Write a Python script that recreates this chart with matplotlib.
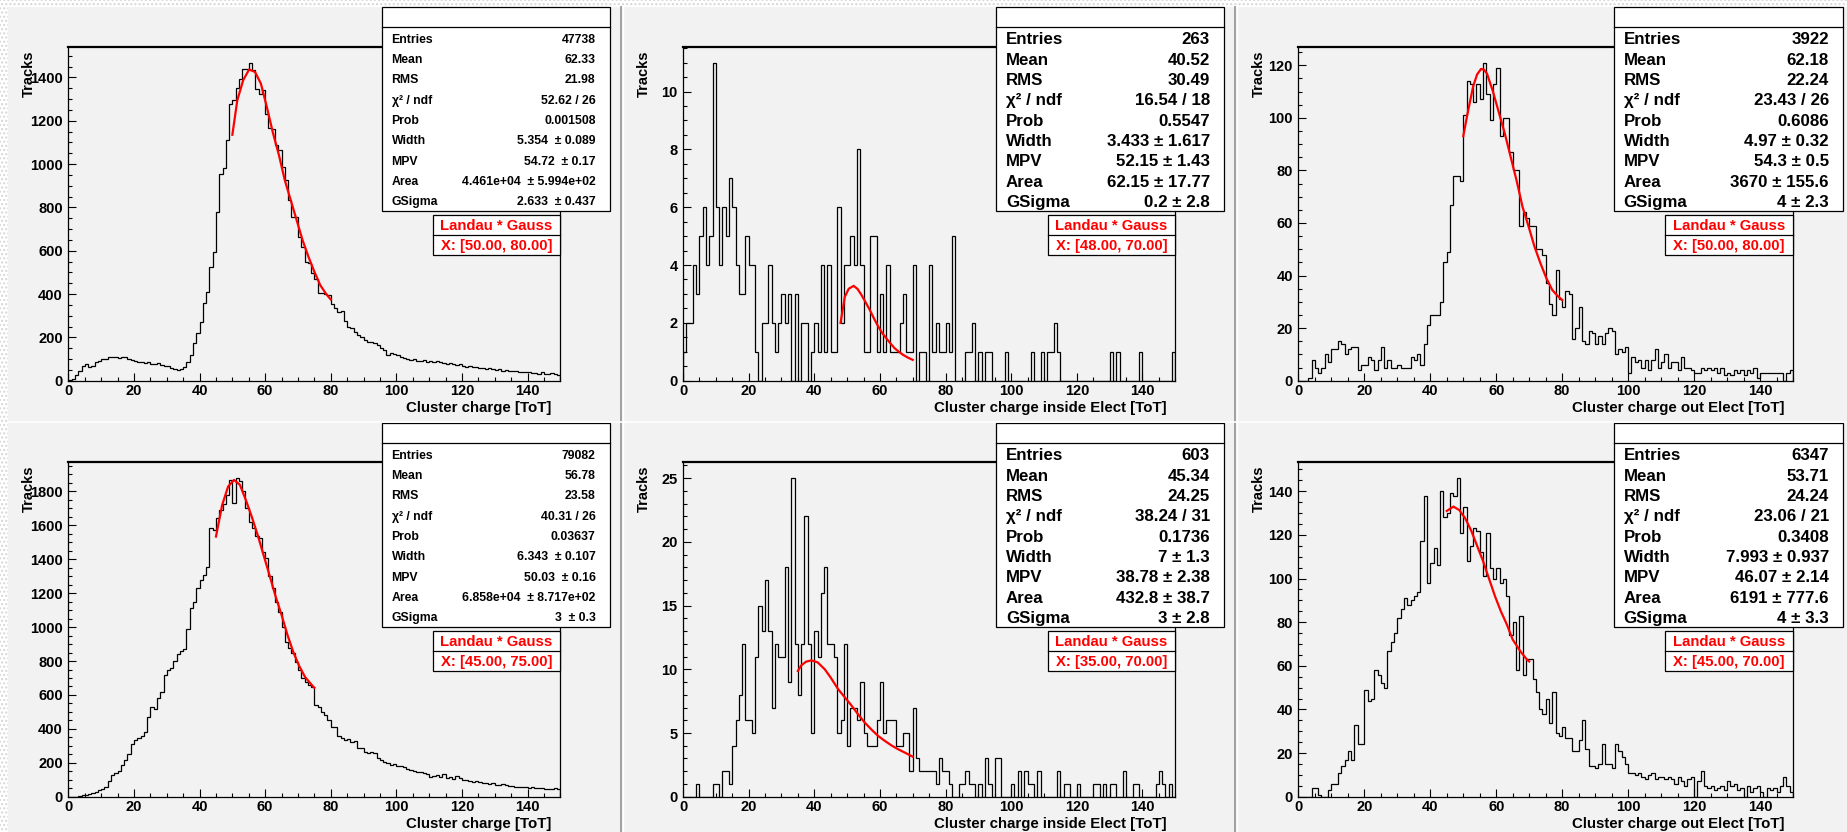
"""
Cluster charge (ToT) distributions with Landau*Gauss fits,
all / inside electrode / outside electrode, two data sets.
ROOT-canvas style 3x2 layout.
"""

import numpy as np
import matplotlib
matplotlib.use("Agg")
import matplotlib.pyplot as plt
from matplotlib.patches import Rectangle
from matplotlib.ticker import MultipleLocator

# Output / canvas configuration (pixel based)
W, H = 1847, 832
DPI = 100
BG = "#f2f2f2"
plt.rcParams["font.family"] = ["Liberation Sans", "DejaVu Sans"]
plt.rcParams["font.weight"] = "bold"

# ---------------------------------------------------------------
# Histogram contents: counts per 1 ToT bin, 0..150 (150 bins)
# ---------------------------------------------------------------
tot_edges = np.arange(0, 151)

charge_all_top = [
    2, 8, 25, 45, 70, 75, 65, 70, 88, 92,
    100, 102, 110, 110, 108, 105, 110, 108, 100, 95,
    92, 85, 88, 80, 85, 78, 75, 80, 72, 70,
    68, 60, 55, 50, 55, 65, 88, 118, 172, 218,
    272, 357, 410, 526, 592, 780, 956, 980, 1113, 1276,
    1294, 1353, 1394, 1440, 1440, 1468, 1433, 1344, 1325, 1340,
    1233, 1164, 1160, 1090, 1064, 987, 925, 836, 756, 756,
    664, 618, 549, 545, 495, 470, 403, 403, 400, 395,
    354, 334, 318, 322, 277, 249, 241, 226, 211, 203,
    188, 180, 180, 172, 164, 149, 141, 118, 126, 124,
    120, 110, 103, 100, 95, 98, 92, 90, 94, 88,
    90, 88, 92, 85, 80, 78, 82, 75, 72, 76,
    70, 65, 68, 62, 64, 60, 58, 55, 57, 52,
    50, 52, 47, 49, 45, 44, 46, 40, 42, 38,
    40, 35, 37, 33, 38, 32, 30, 36, 30, 26,
]

charge_in_top = [
    1, 2, 2, 4, 3, 5, 6, 4, 5, 11,
    6, 4, 6, 5, 7, 6, 4, 3, 3, 5,
    4, 4, 1, 0, 2, 2, 4, 2, 1, 2,
    3, 2, 3, 0, 3, 0, 2, 2, 0, 1,
    2, 1, 4, 1, 4, 1, 1, 6, 2, 4,
    4, 5, 4, 8, 4, 1, 1, 5, 5, 1,
    3, 1, 4, 1, 1, 1, 2, 3, 1, 1,
    4, 0, 1, 1, 0, 4, 1, 2, 1, 1,
    2, 1, 5, 0, 0, 0, 1, 1, 2, 0,
    1, 0, 1, 1, 0, 0, 0, 0, 1, 0,
    0, 0, 0, 0, 0, 0, 1, 0, 0, 1,
    0, 1, 1, 2, 1, 0, 0, 0, 0, 0,
    0, 0, 0, 0, 0, 0, 0, 0, 0, 0,
    1, 0, 1, 0, 0, 0, 0, 0, 0, 1,
    0, 0, 0, 0, 0, 0, 0, 0, 0, 1,
]

charge_out_top = [
    0, 0, 0, 1, 8, 5, 3, 5, 10, 7,
    12, 12, 15, 14, 10, 12, 13, 13, 4, 6,
    6, 9, 8, 4, 8, 13, 5, 8, 5, 5,
    6, 5, 5, 5, 9, 8, 10, 6, 14, 21,
    25, 25, 25, 30, 45, 49, 67, 78, 78, 76,
    101, 114, 113, 106, 113, 107, 121, 109, 99, 113,
    119, 93, 100, 100, 87, 80, 80, 59, 64, 62,
    59, 59, 50, 50, 48, 37, 29, 25, 42, 31,
    28, 34, 33, 16, 20, 28, 15, 14, 19, 18,
    14, 17, 14, 18, 20, 19, 10, 12, 11, 13,
    3, 9, 7, 8, 5, 8, 4, 8, 12, 5,
    7, 10, 5, 7, 7, 4, 9, 5, 5, 4,
    3, 3, 5, 4, 5, 4, 5, 3, 5, 2,
    3, 2, 4, 3, 4, 2, 4, 3, 5, 1,
    3, 3, 3, 3, 3, 3, 3, 0, 3, 4,
]

charge_all_bot = [
    0, 0, 0, 4, 8, 12, 15, 22, 30, 38,
    45, 60, 90, 128, 140, 150, 185, 215, 250, 310,
    335, 348, 355, 383, 470, 530, 520, 580, 615, 715,
    745, 760, 800, 840, 858, 870, 990, 1110, 1150, 1230,
    1280, 1305, 1357, 1583, 1573, 1642, 1691, 1725, 1780, 1868,
    1731, 1878, 1860, 1800, 1701, 1622, 1583, 1540, 1524, 1445,
    1406, 1300, 1229, 1150, 1091, 1000, 914, 875, 846, 796,
    747, 700, 678, 660, 649, 541, 531, 501, 482, 452,
    413, 410, 360, 344, 334, 340, 324, 330, 285, 290,
    262, 258, 265, 256, 226, 218, 206, 200, 187, 190,
    183, 182, 177, 163, 157, 151, 147, 145, 138, 132,
    118, 122, 128, 118, 132, 112, 118, 105, 122, 110,
    98, 100, 92, 88, 90, 85, 80, 82, 73, 78,
    70, 69, 75, 68, 65, 62, 59, 60, 55, 58,
    53, 55, 50, 49, 52, 45, 48, 44, 50, 45,
]

charge_in_bot = [
    0, 0, 0, 0, 1, 0, 0, 0, 0, 1,
    1, 0, 2, 2, 1, 4, 6, 8, 12, 6,
    6, 5, 11, 15, 13, 17, 13, 7, 12, 11,
    11, 18, 9, 25, 12, 8, 12, 22, 12, 5,
    13, 11, 16, 18, 12, 12, 11, 5, 6, 12,
    4, 7, 7, 6, 9, 5, 4, 4, 4, 6,
    9, 5, 6, 6, 6, 4, 4, 5, 5, 2,
    7, 3, 2, 2, 2, 2, 2, 1, 3, 2,
    2, 1, 0, 0, 1, 1, 2, 1, 1, 0,
    1, 0, 3, 1, 0, 3, 3, 0, 0, 0,
    1, 0, 2, 0, 2, 1, 1, 0, 2, 0,
    0, 0, 0, 0, 2, 0, 1, 1, 0, 0,
    1, 0, 0, 0, 0, 1, 1, 0, 1, 0,
    1, 1, 0, 0, 2, 0, 0, 1, 1, 0,
    0, 0, 0, 0, 1, 2, 1, 0, 1, 0,
]

charge_out_bot = [
    0, 0, 0, 0, 4, 4, 1, 0, 0, 3,
    6, 6, 11, 14, 17, 21, 17, 33, 24, 24,
    49, 44, 45, 58, 56, 52, 50, 67, 71, 75,
    82, 86, 91, 88, 90, 92, 94, 117, 138, 98,
    107, 114, 106, 140, 128, 130, 139, 138, 146, 121,
    133, 108, 115, 123, 122, 112, 101, 121, 105, 100,
    105, 98, 100, 92, 74, 80, 58, 83, 56, 63,
    63, 54, 48, 40, 38, 45, 34, 48, 29, 28,
    32, 27, 27, 21, 21, 26, 35, 22, 14, 14,
    13, 15, 24, 15, 15, 13, 24, 21, 18, 15,
    11, 11, 10, 11, 9, 8, 10, 11, 8, 9,
    9, 8, 9, 8, 6, 9, 7, 5, 8, 9,
    0, 7, 12, 5, 4, 5, 3, 4, 5, 3,
    7, 5, 6, 3, 4, 0, 5, 2, 4, 5,
    2, 0, 4, 3, 4, 2, 5, 9, 5, 2,
]

# Fitted Landau*Gauss curves
fit_x_all_top = [50, 51.5, 53.3, 55.1, 56.9, 58.7, 60.5, 62.3, 64.2, 66.0,
                 67.8, 69.6, 71.4, 73.2, 75.0, 76.8, 78.6, 80]
fit_y_all_top = [1135, 1294, 1387, 1436, 1425, 1371, 1264, 1148, 1041, 925,
                 833, 741, 649, 572, 503, 441, 400, 375]

fit_x_in_top = [48, 49.3, 50.5, 52, 53.2, 54.4, 55.6, 56.9, 58.2, 59.5,
                60.7, 62, 63.2, 64.5, 65.8, 67.1, 68.5, 70]
fit_y_in_top = [2.0, 2.9, 3.18, 3.28, 3.17, 2.96, 2.72, 2.45, 2.15, 1.87,
                1.65, 1.46, 1.29, 1.12, 1.0, 0.89, 0.8, 0.72]

fit_x_out_top = [50, 51.2, 53, 54.2, 55.4, 56.3, 57.2, 59, 60.8, 62.6, 64.4,
                 66.2, 68, 69.8, 71.6, 73.4, 75.2, 77, 78.5, 80]
fit_y_out_top = [93, 101, 112, 116.5, 118.6, 118.3, 116.8, 110, 102, 94, 85,
                 76, 66, 58.7, 51, 44.7, 39, 34.5, 32.4, 30.7]

fit_x_all_bot = [45, 46.9, 48.7, 50.5, 52.3, 54.1, 55.9, 57.7, 59.5, 61.3,
                 63.2, 65, 66.8, 68.6, 70.4, 72.2, 74.6, 75]
fit_y_all_bot = [1534, 1721, 1829, 1868, 1839, 1750, 1652, 1544, 1426, 1308,
                 1180, 1072, 954, 852, 770, 705, 650, 643]

fit_x_in_bot = [35, 36, 37.5, 39.1, 41, 43.2, 45, 47.3, 49.3, 51.3, 53.4,
                55.4, 57.5, 59.5, 61.5, 63.5, 65.5, 67.6, 70]
fit_y_in_bot = [9.87, 10.3, 10.6, 10.7, 10.55, 10.0, 9.35, 8.43, 7.8, 7.17, 6.45,
                5.81, 5.25, 4.76, 4.38, 4.03, 3.73, 3.46, 3.14]

fit_x_out_bot = [45, 47, 48.8, 50.6, 52.4, 54.2, 56, 57.8, 59.6, 61.4,
                 63.2, 65, 67.4, 69.4, 70]
fit_y_out_bot = [131, 133, 131.4, 127.6, 122, 115, 108, 100, 92, 85,
                 79, 72, 66.5, 62.7, 62]

# Stat box contents
stat_labels = ["Entries", "Mean", "RMS", "\u03c7\u00b2 / ndf", "Prob",
               "Width", "MPV", "Area", "GSigma"]
stats_all_top = ["47738", "62.33", "21.98", "52.62 / 26", "0.001508",
                 "5.354  \u00b1 0.089", "54.72  \u00b1 0.17",
                 "4.461e+04  \u00b1 5.994e+02", "2.633  \u00b1 0.437"]
stats_in_top = ["263", "40.52", "30.49", "16.54 / 18", "0.5547",
                "3.433 \u00b1 1.617", "52.15 \u00b1 1.43",
                "62.15 \u00b1 17.77", "0.2 \u00b1 2.8"]
stats_out_top = ["3922", "62.18", "22.24", "23.43 / 26", "0.6086",
                 "4.97 \u00b1 0.32", "54.3 \u00b1 0.5",
                 "3670 \u00b1 155.6", "4 \u00b1 2.3"]
stats_all_bot = ["79082", "56.78", "23.58", "40.31 / 26", "0.03637",
                 "6.343  \u00b1 0.107", "50.03  \u00b1 0.16",
                 "6.858e+04  \u00b1 8.717e+02", "3  \u00b1 0.3"]
stats_in_bot = ["603", "45.34", "24.25", "38.24 / 31", "0.1736",
                "7 \u00b1 1.3", "38.78 \u00b1 2.38",
                "432.8 \u00b1 38.7", "3 \u00b1 2.8"]
stats_out_bot = ["6347", "53.71", "24.24", "23.06 / 21", "0.3408",
                 "7.993 \u00b1 0.937", "46.07 \u00b1 2.14",
                 "6191 \u00b1 777.6", "4 \u00b1 3.3"]

fit_ranges = ["X: [50.00, 80.00]", "X: [48.00, 70.00]", "X: [50.00, 80.00]",
              "X: [45.00, 75.00]", "X: [35.00, 70.00]", "X: [45.00, 70.00]"]
x_titles = ["Cluster charge [ToT]", "Cluster charge inside Elect [ToT]",
            "Cluster charge out Elect [ToT]"]

# ---------------------------------------------------------------
# Layout (pixels in the 1847x832 canvas)
# ---------------------------------------------------------------
FRAME_X = [(68.4, 560.3), (683.0, 1175.3), (1298.4, 1793.0)]
FRAME_Y = [(46.7, 380.7), (462.3, 796.7)]
STATS_X = [(381.6, 609.7), (995.8, 1224.0), (1613.5, 1843.0)]
STATS_TOP = [7.3, 423.3]
STATS_H = 203.4
FITBOX_X = [(432.6, 560.3), (1047.6, 1175.3), (1665.0, 1793.0)]
FITBOX_TOP = [215.0, 631.0]


def px_axes(fig, x0, x1, y0, y1, **kw):
    return fig.add_axes([x0 / W, 1 - y1 / H, (x1 - x0) / W, (y1 - y0) / H], **kw)


def main():
    fig = plt.figure(figsize=(W / DPI, H / DPI), dpi=DPI, facecolor=BG)

    panels = [
        dict(counts=charge_all_top, fx=fit_x_all_top, fy=fit_y_all_top,
             stats=stats_all_top, ymaj=200, ymin=50, small=True),
        dict(counts=charge_in_top, fx=fit_x_in_top, fy=fit_y_in_top,
             stats=stats_in_top, ymaj=2, ymin=0.5, small=False),
        dict(counts=charge_out_top, fx=fit_x_out_top, fy=fit_y_out_top,
             stats=stats_out_top, ymaj=20, ymin=5, small=False),
        dict(counts=charge_all_bot, fx=fit_x_all_bot, fy=fit_y_all_bot,
             stats=stats_all_bot, ymaj=200, ymin=50, small=True),
        dict(counts=charge_in_bot, fx=fit_x_in_bot, fy=fit_y_in_bot,
             stats=stats_in_bot, ymaj=5, ymin=1, small=False),
        dict(counts=charge_out_bot, fx=fit_x_out_bot, fy=fit_y_out_bot,
             stats=stats_out_bot, ymaj=20, ymin=5, small=False),
    ]

    # histogram frames
    for k, p in enumerate(panels):
        r, c = divmod(k, 3)
        fx0, fx1 = FRAME_X[c]
        fy0, fy1 = FRAME_Y[r]
        ax = px_axes(fig, fx0, fx1, fy0, fy1)
        ax.set_facecolor(BG)
        ax.stairs(p["counts"], tot_edges, baseline=0, color="black", lw=0.9)
        ax.plot(p["fx"], p["fy"], color="red", lw=1.6)
        ax.set_xlim(0, 150)
        ax.set_ylim(0, 1.05 * max(p["counts"]))
        ax.xaxis.set_major_locator(MultipleLocator(20))
        ax.xaxis.set_minor_locator(MultipleLocator(5))
        ax.yaxis.set_major_locator(MultipleLocator(p["ymaj"]))
        ax.yaxis.set_minor_locator(MultipleLocator(p["ymin"]))
        ax.tick_params(which="both", direction="in", top=False, right=False,
                       width=0.8, color="black", labelsize=10.5)
        ax.tick_params(which="major", length=5.8)
        ax.tick_params(which="minor", length=2.9)
        ax.tick_params(axis="x", pad=2.5)
        ax.tick_params(axis="y", pad=3.9)
        for s in ax.spines.values():
            s.set_linewidth(0.9)
        ax.spines["top"].set_linewidth(1.6)

    # overlay in pixel coordinates for boxes and titles
    ov = fig.add_axes([0, 0, 1, 1], zorder=10)
    ov.set_xlim(0, W)
    ov.set_ylim(H, 0)
    ov.axis("off")

    # canvas border strips and pad separators
    ov.add_patch(Rectangle((0, 0), W, 6.5, fc="white", ec="#d6d6d6",
                           hatch="....", lw=0))
    ov.add_patch(Rectangle((0, 0), 7.5, H, fc="white", ec="#d6d6d6",
                           hatch="....", lw=0))
    for xs in (620.5, 1235.0):
        ov.plot([xs, xs], [6.5, H], color="#a0a0a0", lw=1.4)
        ov.plot([xs + 2, xs + 2], [6.5, H], color="white", lw=1.0)
    ov.plot([7.5, W], [421.5, 421.5], color="white", lw=1.2)

    for k, p in enumerate(panels):
        r, c = divmod(k, 3)
        fx0, fx1 = FRAME_X[c]
        fy0, fy1 = FRAME_Y[r]

        # axis titles
        ov.text(fx1 - 9, fy1 + 27.5, x_titles[c], ha="right", va="center",
                fontsize=10.8)
        ov.text(fx0 - 39.3, fy0 + 3.5, "Tracks", rotation=90, ha="center",
                va="top", fontsize=10.5)

        # statistics box
        sx0, sx1 = STATS_X[c]
        sy0 = STATS_TOP[r]
        ov.add_patch(Rectangle((sx0, sy0), sx1 - sx0, STATS_H, fc="white",
                               ec="black", lw=0.9))
        ov.plot([sx0, sx1], [sy0 + 19.4, sy0 + 19.4], color="black", lw=0.9)
        fs = 8.8 if p["small"] else 12.2
        off = 0.358 * fs * DPI / 72
        for i, (lab, val) in enumerate(zip(stat_labels, p["stats"])):
            yb = sy0 + 31 + 20.33 * i + off
            ov.text(sx0 + 10, yb, lab, ha="left", va="baseline", fontsize=fs)
            ov.text(sx1 - 14, yb, val, ha="right", va="baseline", fontsize=fs)

        # fit function label
        bx0, bx1 = FITBOX_X[c]
        by0 = FITBOX_TOP[r]
        ov.add_patch(Rectangle((bx0, by0), bx1 - bx0, 40, fc="white",
                               ec="black", lw=0.9))
        ov.plot([bx0, bx1], [by0 + 20, by0 + 20], color="black", lw=0.9)
        foff = 0.358 * 10.7 * DPI / 72
        ov.text((bx0 + bx1) / 2, by0 + 10 + foff, "Landau * Gauss", ha="center",
                va="baseline", color="red", fontsize=10.7)
        ov.text((bx0 + bx1) / 2, by0 + 30 + foff, fit_ranges[k], ha="center",
                va="baseline", color="red", fontsize=10.7)

    fig.savefig("out.png", dpi=DPI, facecolor=BG)
    plt.close(fig)


if __name__ == "__main__":
    main()
